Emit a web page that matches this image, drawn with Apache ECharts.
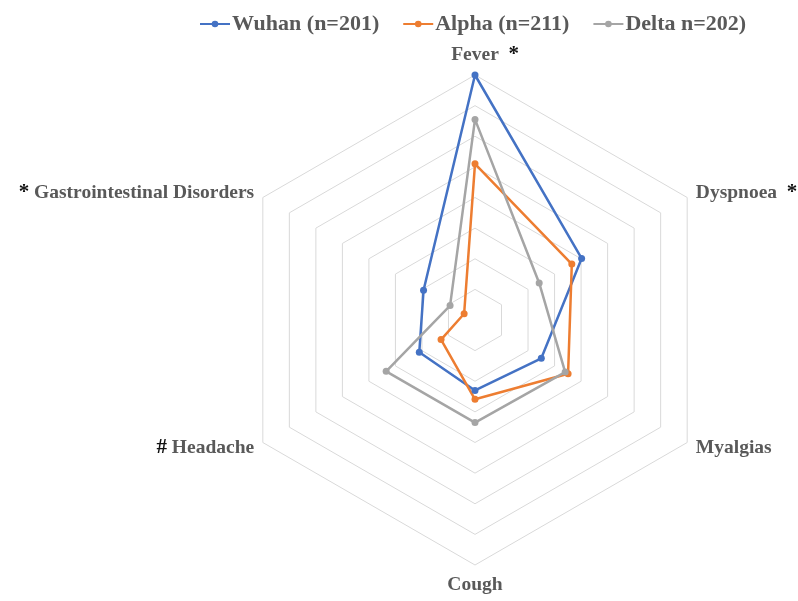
<!DOCTYPE html>
<html><head><meta charset="utf-8">
<script src="https://cdn.jsdelivr.net/npm/echarts@6/dist/echarts.min.js"></script>
<style>html,body{margin:0;padding:0;background:#fff}#c{width:798px;height:601px}</style>
</head><body><div id="c"></div>
<script>
var indicators = ["Fever", "Gastrointestinal Disorders", "Headache", "Cough", "Myalgias", "Dyspnoea"];
var prefixes = ["", "*", "#", "", "", ""];
var suffixes = ["*", "", "", "", "", "*"];
var seriesNames = ["Wuhan (n=201)", "Alpha (n=211)", "Delta n=202)"];
var wuhan = [80, 19.4, 21, 23, 25, 40.2];
var alpha = [51, 4.1, 12.8, 25.9, 35.1, 36.5];
var delta = [65.5, 9.4, 33.5, 33.5, 34, 24.2];
var axisMax = 80;
var colors = ["#4472C4", "#ED7D31", "#A5A5A5"];

var chart = echarts.init(document.getElementById('c'), null, {renderer: 'canvas'});
var font = "'Liberation Serif', 'Times New Roman', serif";
var icon = 'path://M0,4.1 L30,4.1 L30,5.9 L0,5.9 Z M15,1.7 A3.3,3.3 0 1,1 15,8.3 A3.3,3.3 0 1,1 15,1.7 Z';
var option = {
  animation: false,
  color: colors,
  legend: {
    top: 8, left: 195,
    itemWidth: 30, itemHeight: 10, itemGap: 24,
    icon: icon,
    textStyle: {fontFamily: font, fontWeight: 'bold', fontSize: 22, color: '#595959', padding: [0, 0, 0, -3]},
    data: seriesNames
  },
  radar: {
    center: [475, 320],
    radius: 245,
    splitNumber: 8,
    shape: 'polygon',
    startAngle: 90,
    indicator: indicators.map(function (n) { return {name: n, max: axisMax, min: 0}; }),
    axisName: {
      fontFamily: font, fontWeight: 'bold', fontSize: 19.5, color: '#595959',
      formatter: function (name) {
        var i = indicators.indexOf(name);
        var s = '';
        if (prefixes[i]) s += '{m|' + prefixes[i] + '} ';
        s += '{n|' + name + '}';
        if (suffixes[i]) {
          if (i === 0) s = '{inv|' + suffixes[i] + '}  ' + s;
          s += '  {m|' + suffixes[i] + '}';
        }
        return s;
      },
      rich: {
        n: {fontFamily: font, fontWeight: 'bold', fontSize: 19.5, color: '#595959'},
        m: {fontFamily: font, fontWeight: 'bold', fontSize: 21, color: '#111'},
        inv: {fontFamily: font, fontWeight: 'bold', fontSize: 21, color: 'rgba(0,0,0,0)'}
      }
    },
    nameGap: 10,
    axisLine: {show: false},
    splitLine: {lineStyle: {color: '#D9D9D9', width: 1}},
    splitArea: {show: false},
    axisTick: {show: false},
    axisLabel: {show: false}
  },
  series: [{
    type: 'radar',
    symbol: 'circle',
    symbolSize: 7,
    lineStyle: {width: 2.5},
    data: [
      {name: seriesNames[0], value: wuhan, itemStyle: {color: colors[0]}, lineStyle: {color: colors[0], width: 2.5}},
      {name: seriesNames[1], value: alpha, itemStyle: {color: colors[1]}, lineStyle: {color: colors[1], width: 2.5}},
      {name: seriesNames[2], value: delta, itemStyle: {color: colors[2]}, lineStyle: {color: colors[2], width: 2.5}}
    ]
  }]
};
chart.setOption(option);
</script></body></html>
